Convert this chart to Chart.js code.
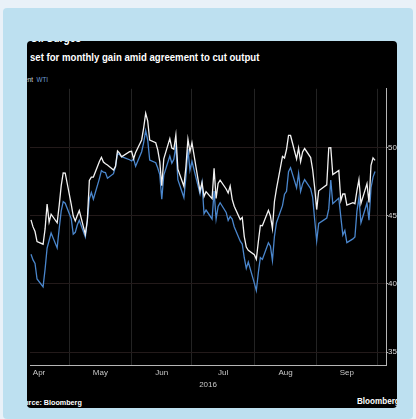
<!DOCTYPE html>
<html>
<head>
<meta charset="utf-8">
<script src="https://cdn.jsdelivr.net/npm/chart.js@4.4.1/dist/chart.umd.min.js"></script>
<style>
  html, body { margin:0; padding:0; }
  body { width:416px; height:419px; overflow:hidden; background:#e9f1f8; position:relative;
         font-family:"Liberation Sans",Arial,sans-serif; }
  #outer { position:absolute; left:3px; top:8px; width:410px; height:411px; background:#bde0f0; border-radius:4px; }
  #panel { position:absolute; left:27px; top:41px; width:370px; height:367px; background:#000; border-radius:4px; overflow:hidden; }
  .t { position:absolute; white-space:nowrap; transform-origin:0 0; }
  #head { left:3px; top:-10px; font-weight:bold; font-size:12px; color:#fff; transform:scaleX(0.85); }
  #sub { left:3px; top:11px; font-weight:bold; font-size:10px; color:#fff; transform:scaleX(0.96); }
  #leg { left:-9px; top:35px; font-size:7px; color:#d8d8d8; transform:scaleX(0.9); }
  #src { left:-12px; top:357px; font-weight:bold; font-size:8px; color:#fff; transform:scaleX(0.9); }
  #brand { left:330px; top:355px; font-weight:bold; font-size:9px; color:#fff; transform:scaleX(0.9); }
  #wrap { position:absolute; left:27px; top:84px; width:389px; height:306px; }
</style>
</head>
<body>
<div id="outer"></div>
<div id="panel">
  <div class="t" id="head">Oil Surges</div>
  <div class="t" id="sub">set for monthly gain amid agreement to cut output</div>
  <div class="t" id="leg">Brent&nbsp;&nbsp;<span style="color:#6f9fd8">WTI</span></div>
  <div class="t" id="src">Source: Bloomberg</div>
  <div class="t" id="brand">Bloomberg</div>
</div>
<div id="wrap"><canvas id="c"></canvas></div>
<script>
// trading days (2016, MM-DD)
const dates = ["04-12","04-13","04-14","04-15","04-18","04-19","04-20","04-21","04-22","04-25","04-26","04-27","04-28","04-29",
"05-02","05-03","05-04","05-05","05-06","05-09","05-10","05-11","05-12","05-13","05-16","05-17","05-18","05-19","05-20","05-23","05-24","05-25","05-26","05-27","05-31",
"06-01","06-02","06-03","06-06","06-07","06-08","06-09","06-10","06-13","06-14","06-15","06-16","06-17","06-20","06-21","06-22","06-23","06-24","06-27","06-28","06-29","06-30",
"07-01","07-05","07-06","07-07","07-08","07-11","07-12","07-13","07-14","07-15","07-18","07-19","07-20","07-21","07-22","07-25","07-26","07-27","07-28","07-29",
"08-01","08-02","08-03","08-04","08-05","08-08","08-09","08-10","08-11","08-12","08-15","08-16","08-17","08-18","08-19","08-22","08-23","08-24","08-25","08-26","08-29","08-30","08-31",
"09-01","09-02","09-06","09-07","09-08","09-09","09-12","09-13","09-14","09-15","09-16","09-19","09-20","09-21","09-22","09-23","09-26","09-27","09-28","09-29","09-30"];
const brent = [44.69,44.18,43.84,43.10,42.91,44.03,45.86,44.53,45.11,44.48,45.74,47.18,48.14,48.13,
45.83,44.97,44.62,45.01,45.37,43.63,44.66,47.59,47.83,47.83,48.97,49.28,48.93,48.81,48.72,48.35,48.61,49.74,49.59,49.32,49.69,
49.72,49.17,49.64,50.55,51.44,52.51,51.95,50.54,50.35,49.83,48.97,47.19,49.17,50.65,49.96,49.88,50.91,48.41,47.16,48.58,50.61,49.68,
50.35,46.80,47.43,46.40,46.76,46.25,48.47,46.26,47.37,47.61,46.96,46.66,47.17,46.20,45.69,44.72,44.87,43.47,42.70,42.46,
42.14,41.80,43.10,44.29,44.27,45.39,44.98,44.05,46.04,46.97,49.35,49.23,49.85,50.89,50.88,49.16,49.96,48.95,49.67,49.92,49.26,48.37,47.04,
45.45,46.83,47.26,49.98,49.99,48.01,48.32,46.10,46.59,46.59,45.77,45.95,45.88,46.83,47.65,45.89,47.35,45.97,48.69,49.24,49.06];
const wti = [42.17,41.76,41.50,40.36,39.78,41.08,42.63,43.18,43.73,42.64,44.04,45.33,46.03,45.92,
44.78,43.65,43.78,44.32,44.66,43.44,44.66,46.23,46.70,46.21,47.72,48.31,48.19,48.16,47.75,48.08,48.62,49.56,49.48,49.33,49.10,
49.01,49.17,48.62,49.69,50.36,51.23,50.56,49.07,48.88,48.49,48.01,46.21,47.98,49.37,48.85,49.13,50.11,47.64,46.33,47.85,49.88,48.33,
48.99,46.60,47.43,45.14,45.41,44.76,46.80,44.75,45.68,45.95,45.24,44.65,44.94,44.75,44.19,43.13,42.92,41.92,41.14,41.60,
40.06,39.51,40.83,41.93,41.80,43.02,42.77,41.71,43.49,44.49,45.74,46.58,46.79,48.22,48.52,47.05,48.10,46.77,47.33,47.64,46.98,46.35,44.70,
43.16,44.44,44.83,45.50,47.62,45.88,46.29,44.90,43.58,43.91,43.03,43.30,43.44,45.34,46.32,44.48,45.93,44.67,47.05,47.83,48.24];
const monthLabels = ["Apr","May","Jun","Jul","Aug","Sep"];
const monthStarts = ["04-01","05-01","06-01","07-01","08-01","09-01","10-01"];
const yTicks = [35,40,45,50];
const yearLabel = "2016";

function dayNum(md){ const [m,d] = md.split("-").map(Number); return (Date.UTC(2016,m-1,d)-Date.UTC(2016,0,1))/864e5; }
const xMin = dayNum("04-12")-0.5, xMax = dayNum("10-05")+0.5;
const starts = monthStarts.map(dayNum);
const mids = monthLabels.map((_,i)=> (starts[i]+starts[i+1])/2);
const startSet = new Set(starts);
const labelAt = new Map(mids.map((v,i)=>[v,monthLabels[i]]));

const brentPts = dates.map((d,i)=>({x:dayNum(d), y:brent[i]}));
const wtiPts = dates.map((d,i)=>({x:dayNum(d), y:wti[i]}));

const tickFont = {family:'"Liberation Sans",Arial,sans-serif', size:8};

new Chart(document.getElementById('c'), {
  type:'line',
  data:{ datasets:[
    {label:'Brent', data:brentPts, borderColor:'#f2f2f2', borderWidth:1.3, pointRadius:0, tension:0},
    {label:'WTI', data:wtiPts, borderColor:'#4a86cc', borderWidth:1.3, pointRadius:0, tension:0}
  ]},
  options:{
    responsive:true, maintainAspectRatio:false, animation:false,
    layout:{padding:{left:3, top:4, right:19, bottom:0}},
    plugins:{legend:{display:false}, tooltip:{enabled:false}},
    scales:{
      x:{ type:'linear', min:xMin, max:xMax,
          afterBuildTicks:(s)=>{ s.ticks = starts.concat(mids).filter(v=>v>=xMin && v<=xMax).sort((a,b)=>a-b).map(v=>({value:v})); },
          ticks:{ autoSkip:false, maxRotation:0, color:'#c8c8c8', font:tickFont, padding:2,
                  callback:(v)=> labelAt.has(v) ? labelAt.get(v) : '' },
          grid:{ color:(c)=> (c.tick && startSet.has(c.tick.value)) ? '#232323' : 'rgba(0,0,0,0)',
                 tickColor:'rgba(0,0,0,0)', tickLength:0, lineWidth:1 },
          border:{ display:true, color:'#b5b5b5', width:1 },
          title:{ display:true, text:yearLabel, color:'#c8c8c8', font:tickFont, padding:{top:1,bottom:0} }
      },
      y:{ position:'right', min:34, max:54.3,
          afterBuildTicks:(s)=>{ s.ticks = yTicks.map(v=>({value:v})); },
          ticks:{ color:'#d8d8d8', font:tickFont, padding:0 },
          grid:{ color:'#231a1a', tickColor:'#b5b5b5', tickLength:2, lineWidth:1 },
          border:{ display:true, color:'#b5b5b5', width:1 }
      }
    }
  }
});
</script>
</body>
</html>
